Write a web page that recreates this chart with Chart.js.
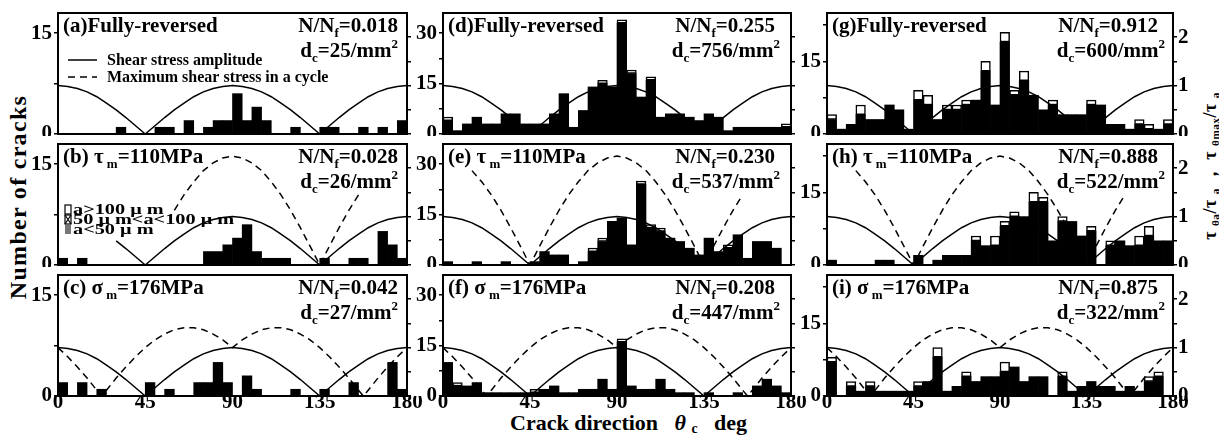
<!DOCTYPE html>
<html>
<head>
<meta charset="utf-8">
<script src="https://cdn.jsdelivr.net/npm/chart.js@4.4.0/dist/chart.umd.min.js"></script>
<style>
  body { margin:0; width:1219px; height:447px; background:#fff; position:relative; overflow:hidden;
         font-family:"Liberation Serif", serif; font-weight:bold; color:#000; }
  canvas { position:absolute; }
  .lab { position:absolute; white-space:nowrap; line-height:1; }
  .lab sub { font-size:0.62em; vertical-align:-0.25em; }
</style>
</head>
<body>
<div class="lab" id="ytitle" style="left:18px;top:197px;font-size:24px;letter-spacing:1.3px;transform:translate(-50%,-50%) rotate(-90deg);">Number of cracks</div>
<div class="lab" id="y2title" style="left:1211px;top:166px;font-size:18px;letter-spacing:0.5px;transform:translate(-50%,-50%) rotate(-90deg);">τ <sub>θa</sub>/τ <sub>a</sub> ， τ <sub>θmax</sub>/τ <sub>a</sub></div>
<div class="lab" id="xtitle" style="left:510px;top:412px;font-size:22px;">Crack direction&nbsp;&nbsp;&nbsp;<i>θ</i> <sub>c</sub>&nbsp;&nbsp;&nbsp;deg</div>

<script>
// bin centres (5 deg bins)
const binCenters = [2.5,7.5,12.5,17.5,22.5,27.5,32.5,37.5,42.5,47.5,52.5,57.5,62.5,67.5,72.5,77.5,82.5,87.5,
                    92.5,97.5,102.5,107.5,112.5,117.5,122.5,127.5,132.5,137.5,142.5,147.5,152.5,157.5,162.5,167.5,172.5,177.5];

// number of cracks per bin (all sizes)
const countsA = [0,0,0,0,0,0,1,0,0,0, 1,1,0,2,0,1,2,2,6,2, 4,2,0,0,1,0,0,1,1,0, 0,1,0,1,0,2];
const countsB = [1,0,1,0,0,0,0,0,0,0, 0,0,0,0,0,2,2,3,4,6, 2,1,1,1,0,0,0,1,0,0, 1,1,0,5,3,1];
const countsC = [2,0,2,0,1,0,0,0,0,2, 0,1,0,0,2,2,5,2,0,3, 1,0,0,0,1,0,0,1,0,0, 2,0,0,0,5,1];
const countsD = [5,1,3,5,3,3,6,6,3,3, 3,6,12,2,7,14,16,14,34,19, 11,17,5,6,6,5,4,6,5,1, 2,2,2,2,2,3];
const countsE = [1,0,0,1,0,0,1,0,0,1, 4,3,3,0,1,5,8,13,14,6, 25,12,11,8,7,5,3,8,4,6, 9,2,7,7,5,0];
const countsF = [10,4,3,4,1,1,1,1,1,2, 2,3,1,1,2,2,5,2,17,3, 2,2,5,2,1,1,0,1,0,0, 1,0,3,5,3,1];
const countsG = [4,1,2,6,3,3,6,5,1,9, 8,3,6,6,7,7,15,6,21,9, 13,8,5,7,4,4,4,7,6,2, 2,1,3,2,1,3];
const countsH = [1,0,0,0,0,1,1,0,0,2, 0,1,2,2,2,6,4,6,9,11, 10,15,14,5,10,9,6,8,0,5, 5,4,6,8,5,5];
const countsI = [8,0,3,1,3,1,1,1,1,3, 3,10,1,2,5,3,4,4,7,6, 3,4,4,0,5,1,2,3,2,2, 1,2,1,4,5,0];

// part of each bin with a > 100 um (open boxes on top)
const bigD = [1,0,0,0,0,0,0,0,0,0, 0,0,0,0,0,0,1,0,1,1, 0,1,0,0,0,0,0,0,0,0, 0,0,0,0,0,1];
const bigE = [0,0,0,0,0,0,0,0,0,0, 0,0,0,0,0,1,1,0,0,0, 1,1,1,0,0,0,0,0,0,1, 0,0,0,0,0,0];
const bigF = [0,1,0,0,0,0,0,0,0,1, 0,0,0,0,0,0,0,0,1,0, 0,0,0,0,0,0,0,0,0,0, 0,0,0,0,0,0];
const bigG = [1,0,0,2,0,0,0,0,0,2, 2,0,1,1,1,0,2,0,2,1, 2,0,0,1,0,0,0,1,0,0, 0,0,1,1,0,1];
const bigH = [0,0,0,0,0,0,0,0,0,0, 0,0,0,0,0,1,0,2,1,1, 0,2,1,0,1,0,0,1,0,1, 0,0,2,2,0,0];
const bigI = [1,0,1,0,1,0,0,0,0,1, 0,2,0,0,1,0,0,0,2,0, 0,0,0,0,1,0,0,0,0,0, 0,0,0,1,1,0];

// stress ratio curves (right axis)
const curveAngles = [0,5,10,15,20,25,30,35,40,45,50,55,60,65,70,75,80,85,90,
                     95,100,105,110,115,120,125,130,135,140,145,150,155,160,165,170,175,180];
const tauAmp = [1.00,0.98,0.94,0.87,0.77,0.64,0.50,0.34,0.17,0.00,0.17,0.34,0.50,0.64,0.77,0.87,0.94,0.98,1.00,
                0.98,0.94,0.87,0.77,0.64,0.50,0.34,0.17,0.00,0.17,0.34,0.50,0.64,0.77,0.87,0.94,0.98,1.00];
const tauMaxShear = [2.25,2.21,2.11,1.95,1.72,1.45,1.13,0.77,0.39,0.00,0.39,0.77,1.13,1.45,1.72,1.95,2.11,2.21,2.25,
                     2.21,2.11,1.95,1.72,1.45,1.13,0.77,0.39,0.00,0.39,0.77,1.13,1.45,1.72,1.95,2.11,2.21,2.25];
const sigmaAngles = [0,5,10,15,20,22.5,25,30,35,40,45,50,55,60,65,67.5,70,75,80,85,90,
                     95,100,105,110,112.5,115,120,125,130,135,140,145,150,155,157.5,160,165,170,175,180];
const sigmaMaxShear = [1.00,0.81,0.60,0.37,0.12,0.00,0.12,0.37,0.60,0.81,1.00,1.16,1.28,1.37,1.41,1.41,1.41,1.37,1.28,1.16,1.00,
                       1.16,1.28,1.37,1.41,1.41,1.41,1.37,1.28,1.16,1.00,0.81,0.60,0.37,0.12,0.00,0.12,0.37,0.60,0.81,1.00];

// tick values
const xTicks = [0, 45, 90, 135, 180];
const yTicks = [[0, 7.5, 15], [0, 7.5, 15, 22.5, 30], [0, 7.5, 15, 22.5]];
const y2Ticks = [0, 0.5, 1, 1.5, 2];

const nnfLabels = ['0.018','0.028','0.042','0.255','0.230','0.208','0.912','0.888','0.875'];
const dcLabels  = ['25','26','27','756','537','447','600','522','322'];

Chart.defaults.font.family = '"Liberation Serif", serif';
Chart.defaults.font.weight = 'bold';
Chart.defaults.font.size = 21;
Chart.defaults.color = '#000';
Chart.defaults.animation = false;

// panel layout (chart area boxes)
const colL = [58, 443, 827], colR = [407, 791, 1173];
const rowT = [13, 144, 275], rowB = [134, 265, 396];
const yMax = [18, 36, 25];
const leftW = 38, rightW = [20, 20, 30], padTop = 6;

const panels = [
  {id:'a', col:0, row:0, counts:countsA, big:null, kind:'fully', solid:[0,180], legend:'lines'},
  {id:'b', col:0, row:1, counts:countsB, big:null, kind:'tau',   solid:[30,180], dash:[60,155], legend:'sizes'},
  {id:'c', col:0, row:2, counts:countsC, big:null, kind:'sigma', solid:[0,180], dash:[0,180]},
  {id:'d', col:1, row:0, counts:countsD, big:bigD, kind:'fully', solid:[0,180]},
  {id:'e', col:1, row:1, counts:countsE, big:bigE, kind:'tau',   solid:[0,180], dash:[15,155]},
  {id:'f', col:1, row:2, counts:countsF, big:bigF, kind:'sigma', solid:[0,180], dash:[0,180]},
  {id:'g', col:2, row:0, counts:countsG, big:bigG, kind:'fully', solid:[0,180]},
  {id:'h', col:2, row:1, counts:countsH, big:bigH, kind:'tau',   solid:[0,180], dash:[15,155]},
  {id:'i', col:2, row:2, counts:countsI, big:bigI, kind:'sigma', solid:[0,180], dash:[0,180]}
];

function fontFor(p, base) {
  const s = p.sub || p.sup ? Math.round(base * 0.62) : base;
  return 'bold ' + s + 'px "Liberation Serif", serif';
}
// draws text made of normal / sub / sup pieces; hs stretches it horizontally
function drawRich(ctx, parts, x, y, align, base, hs) {
  hs = hs || 1;
  let w = 0;
  parts.forEach(p => { ctx.font = fontFor(p, base); w += ctx.measureText(p.t).width; });
  ctx.save();
  ctx.translate(align === 'right' ? x - w * hs : x, y);
  ctx.scale(hs, 1);
  ctx.textAlign = 'left';
  ctx.textBaseline = 'alphabetic';
  let cx = 0;
  parts.forEach(p => {
    ctx.font = fontFor(p, base);
    const dy = p.sub ? base * 0.25 : (p.sup ? -base * 0.42 : 0);
    ctx.fillText(p.t, cx, dy);
    cx += ctx.measureText(p.t).width;
  });
  ctx.restore();
}

// frame, labels and legends
const panelDeco = {
  id: 'panelDeco',
  afterDraw(chart, args, o) {
    const ctx = chart.ctx, a = chart.chartArea;
    ctx.save();
    ctx.strokeStyle = '#000';
    ctx.lineWidth = 2;
    ctx.strokeRect(a.left, a.top, a.right - a.left, a.bottom - a.top);
    ctx.fillStyle = '#000';
    drawRich(ctx, o.title, a.left + 5, a.top + 19, 'left', 21);
    drawRich(ctx, [{t:'N/N'}, {t:'f', sub:true}, {t:'=' + o.nnf}], a.right - o.nDx, a.top + 19, 'right', 21);
    drawRich(ctx, [{t:'d'}, {t:'c', sub:true}, {t:'=' + o.dc + '/mm'}, {t:'2', sup:true}], a.right - o.dDx, a.top + 44, 'right', 21);

    if (o.legend === 'lines') {
      ctx.lineWidth = 1.5;
      ctx.beginPath(); ctx.moveTo(a.left + 10, a.top + 47); ctx.lineTo(a.left + 39, a.top + 47); ctx.stroke();
      ctx.setLineDash([7, 5]);
      ctx.beginPath(); ctx.moveTo(a.left + 10, a.top + 64); ctx.lineTo(a.left + 39, a.top + 64); ctx.stroke();
      ctx.setLineDash([]);
      drawRich(ctx, [{t:'Shear stress amplitude'}], a.left + 49, a.top + 52, 'left', 16);
      drawRich(ctx, [{t:'Maximum shear stress in a cycle'}], a.left + 49, a.top + 69, 'left', 16);
    }
    if (o.legend === 'sizes') {
      const sx = a.left + 7, w = 6, h = 9;
      ctx.lineWidth = 1.2;
      // a > 100 um : open box
      ctx.fillStyle = '#fff'; ctx.fillRect(sx, a.top + 61, w, h); ctx.strokeRect(sx, a.top + 61, w, h);
      // 50 < a < 100 um : crossed box
      ctx.fillRect(sx, a.top + 71, w, h); ctx.strokeRect(sx, a.top + 71, w, h);
      ctx.beginPath(); ctx.moveTo(sx, a.top + 71); ctx.lineTo(sx + w, a.top + 80);
      ctx.moveTo(sx + w, a.top + 71); ctx.lineTo(sx, a.top + 80); ctx.stroke();
      // a < 50 um : grey box
      ctx.fillStyle = '#777'; ctx.fillRect(sx, a.top + 81, w, h);
      ctx.fillStyle = '#000';
      drawRich(ctx, [{t:'a>100 μ m'}], a.left + 15, a.top + 70, 'left', 14, 1.45);
      drawRich(ctx, [{t:'50 μ m<a<100 μ m'}], a.left + 15, a.top + 80, 'left', 14, 1.45);
      drawRich(ctx, [{t:'a<50 μ m'}], a.left + 15, a.top + 90, 'left', 14, 1.45);
    }
    ctx.restore();
  }
};

function curvePts(angles, vals, range) {
  return angles.map((ang, i) => ({x: ang, y: (ang >= range[0] && ang <= range[1]) ? vals[i] : null}));
}

const nDx = [9, 16, 15], dDx = [9, 11, 8];

panels.forEach((p, k) => {
  const col = p.col, row = p.row;
  const bottomH = row === 2 ? 24 : 2;
  const areaW = colR[col] - colL[col], areaH = rowB[row] - rowT[row];
  const cv = document.createElement('canvas');
  cv.width = leftW + areaW + rightW[col];
  cv.height = padTop + areaH + bottomH;
  cv.style.left = (colL[col] - leftW) + 'px';
  cv.style.top = (rowT[row] - padTop) + 'px';
  document.body.appendChild(cv);

  const big = p.big || [];
  const small = p.counts.map((v, i) => v - (big[i] || 0));

  const title = p.kind === 'fully' ? [{t:'(' + p.id + ')Fully-reversed'}]
              : p.kind === 'tau'   ? [{t:'(' + p.id + ') τ'}, {t:' m', sub:true}, {t:'=110MPa'}]
              :                      [{t:'(' + p.id + ') σ'}, {t:' m', sub:true}, {t:'=176MPa'}];

  const datasets = [
    {type:'bar', label:'a<100um', yAxisID:'y', order:2,
     data: small.map((v, i) => ({x: binCenters[i], y: v > 0 ? v : null})),
     backgroundColor:'#000', borderWidth:0, barPercentage:1, categoryPercentage:1},
    {type:'bar', label:'a>100um', yAxisID:'y', order:2,
     data: small.map((v, i) => ({x: binCenters[i], y: big[i] > 0 ? big[i] : null})),
     backgroundColor:'#fff', borderColor:'#000', borderWidth:1.5, borderSkipped:false,
     barPercentage:1, categoryPercentage:1},
    {type:'line', label:'amp', yAxisID:'y2', order:1,
     data: curvePts(curveAngles, tauAmp, p.solid),
     borderColor:'#000', borderWidth:1.5, pointRadius:0, tension:0, spanGaps:false}
  ];
  if (p.kind === 'tau') {
    datasets.push({type:'line', label:'max', yAxisID:'y2', order:1,
      data: curvePts(curveAngles, tauMaxShear, p.dash),
      borderColor:'#000', borderWidth:1.5, borderDash:[7,5], pointRadius:0, tension:0, spanGaps:false});
  }
  if (p.kind === 'sigma') {
    datasets.push({type:'line', label:'max', yAxisID:'y2', order:1,
      data: curvePts(sigmaAngles, sigmaMaxShear, p.dash),
      borderColor:'#000', borderWidth:1.5, borderDash:[7,5], pointRadius:0, tension:0, spanGaps:false});
  }

  new Chart(cv, {
    type: 'bar',
    data: { datasets: datasets },
    options: {
      responsive: false,
      devicePixelRatio: 1,
      layout: { padding: {top: padTop, left: 0, right: 0, bottom: 0} },
      plugins: {
        legend: {display: false},
        tooltip: {enabled: false},
        panelDeco: { title: title, nnf: nnfLabels[k], dc: dcLabels[k], nDx: nDx[col], dDx: dDx[col], legend: p.legend }
      },
      scales: {
        x: {
          type: 'linear', min: 0, max: 180, offset: false, stacked: true,
          ticks: {display: row === 2, padding: -6, autoSkip: false, maxRotation: 0, font: {size: 21}},
          afterBuildTicks(s) { s.ticks = xTicks.map(v => ({value: v})); },
          grid: {display: false, drawTicks: false},
          border: {display: false},
          afterFit(s) { s.height = bottomH; s.paddingLeft = 0; s.paddingRight = 0; }
        },
        y: {
          min: 0, max: yMax[col], stacked: true,
          ticks: {autoSkip: false, padding: 2, font: {size: 21},
                  callback: v => (v % 15 === 0 ? v : '')},
          afterBuildTicks(s) { s.ticks = yTicks[col].map(v => ({value: v})); },
          grid: {drawOnChartArea: false, tickLength: 4, color: '#000', lineWidth: 1.5},
          border: {display: false},
          afterFit(s) { s.width = leftW; s.paddingTop = 0; s.paddingBottom = 0; }
        },
        y2: {
          position: 'right', min: 0, max: 2.5,
          ticks: {autoSkip: false, padding: 1, font: {size: 21},
                  callback: v => (col === 2 && Number.isInteger(v) ? v : '')},
          afterBuildTicks(s) { s.ticks = y2Ticks.map(v => ({value: v})); },
          grid: {drawOnChartArea: false, tickLength: 4, color: '#000', lineWidth: 1.5},
          border: {display: false},
          afterFit(s) { s.width = rightW[col]; s.paddingTop = 0; s.paddingBottom = 0; }
        }
      }
    },
    plugins: [panelDeco]
  });
});
</script>
</body>
</html>
